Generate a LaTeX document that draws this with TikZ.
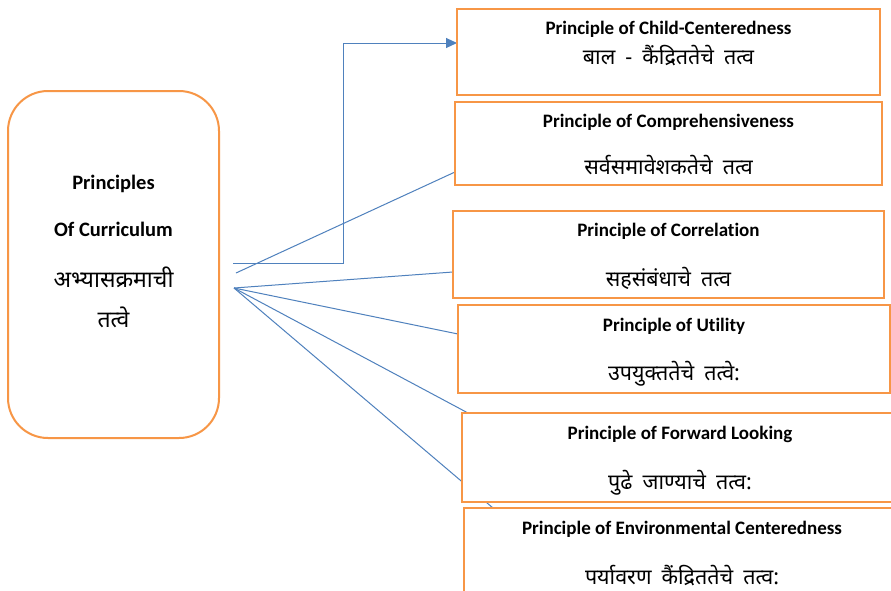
\documentclass[tikz,border=0pt]{standalone}
\usepackage{fontspec}
\setmainfont[Ligatures=NoCommon]{Carlito}
\newfontfamily\deva[Script=Devanagari,WordSpace=1.8]{Noto Sans}
\usetikzlibrary{arrows.meta}
\definecolor{boxorange}{RGB}{247,150,70}
\definecolor{linkblue}{RGB}{79,129,189}
\tikzset{
  pbox/.style={draw=boxorange, line width=2pt, fill=white},
  link/.style={draw=linkblue, line width=1pt},
  entitle/.style={font=\fontsize{19}{21}\selectfont\bfseries, anchor=base, inner sep=0pt},
  devtext/.style={font=\deva\fontsize{21.5}{23}\selectfont, anchor=base, inner sep=0pt},
  lefttitle/.style={font=\fontsize{20.5}{22}\selectfont\bfseries, anchor=base, inner sep=0pt},
  leftdev/.style={font=\deva\fontsize{23}{25}\selectfont, anchor=base, inner sep=0pt}
}
\begin{document}
\begin{tikzpicture}[x=1pt,y=-1pt]
\useasboundingbox[fill=white] (0,0) rectangle (891,590);
\begin{scope}
\clip (0,0) rectangle (891,590);
% left rounded box
\draw[pbox, rounded corners=40pt] (8,91) rectangle (219,438);
\node[lefttitle] (lt1) at (113.5,189) {Principles};
\node[lefttitle] (lt2) at (113.5,236) {Of Curriculum};
\node[leftdev] (lt3) at (113.5,287) {अभ्यासक्रमाची};
\node[leftdev] (lt4) at (113.5,327) {तत्वे};

% connector origins
\coordinate (e0) at (233,263);
\coordinate (c2) at (236,273);
\coordinate (f0) at (234,288);

% connector ends on the boxes
\coordinate (b1w) at (457,43);
\coordinate (b2w) at (455,172);
\coordinate (b3w) at (453,272);
\coordinate (b4w) at (458,334);
\coordinate (b5n) at (468,413);
\coordinate (b6n) at (493,508);

% connectors (drawn first so boxes cover them)
\draw[link, -{Triangle[length=11pt,width=10pt]}] (e0) -- (343,263) -- (343,43) -- (b1w);
\draw[link] (c2) -- (b2w);
\draw[link] (f0) -- (b3w);
\draw[link] (f0) -- (b4w);
\draw[link] (f0) -- (b5n);
\draw[link] (f0) -- (b6n);

% right boxes
\draw[pbox] (457,9) rectangle (880,95);
\draw[pbox] (455,102) rectangle (882,185);
\draw[pbox] (453,211) rectangle (884,298);
\draw[pbox] (458,305) rectangle (890,393);
\draw[pbox] (462,413) rectangle (898,502);
\draw[pbox] (464,508) rectangle (900,600);

% texts
\node[entitle] (t1) at (668.5,34) {Principle of Child-Centeredness};
\node[devtext] (d1) at (668.5,64) {बाल - कैंद्रिततेचे तत्व};
\node[entitle] (t2) at (668.5,127) {Principle of Comprehensiveness};
\node[devtext] (d2) at (668.5,174) {सर्वसमावेशकतेचे तत्व};
\node[entitle] (t3) at (668.5,236) {Principle of Correlation};
\node[devtext] (d3) at (668.5,286) {सहसंबंधाचे तत्व};
\node[entitle] (t4) at (674,331) {Principle of Utility};
\node[devtext] (d4) at (674,380) {उपयुक्ततेचे तत्वे:};
\node[entitle] (t5) at (680,439) {Principle of Forward Looking};
\node[devtext] (d5) at (680,489) {पुढे जाण्याचे तत्व:};
\node[entitle] (t6) at (682,534) {Principle of Environmental Centeredness};
\node[devtext] (d6) at (682,584) {पर्यावरण कैंद्रिततेचे तत्व:};
\end{scope}
\end{tikzpicture}
\end{document}
